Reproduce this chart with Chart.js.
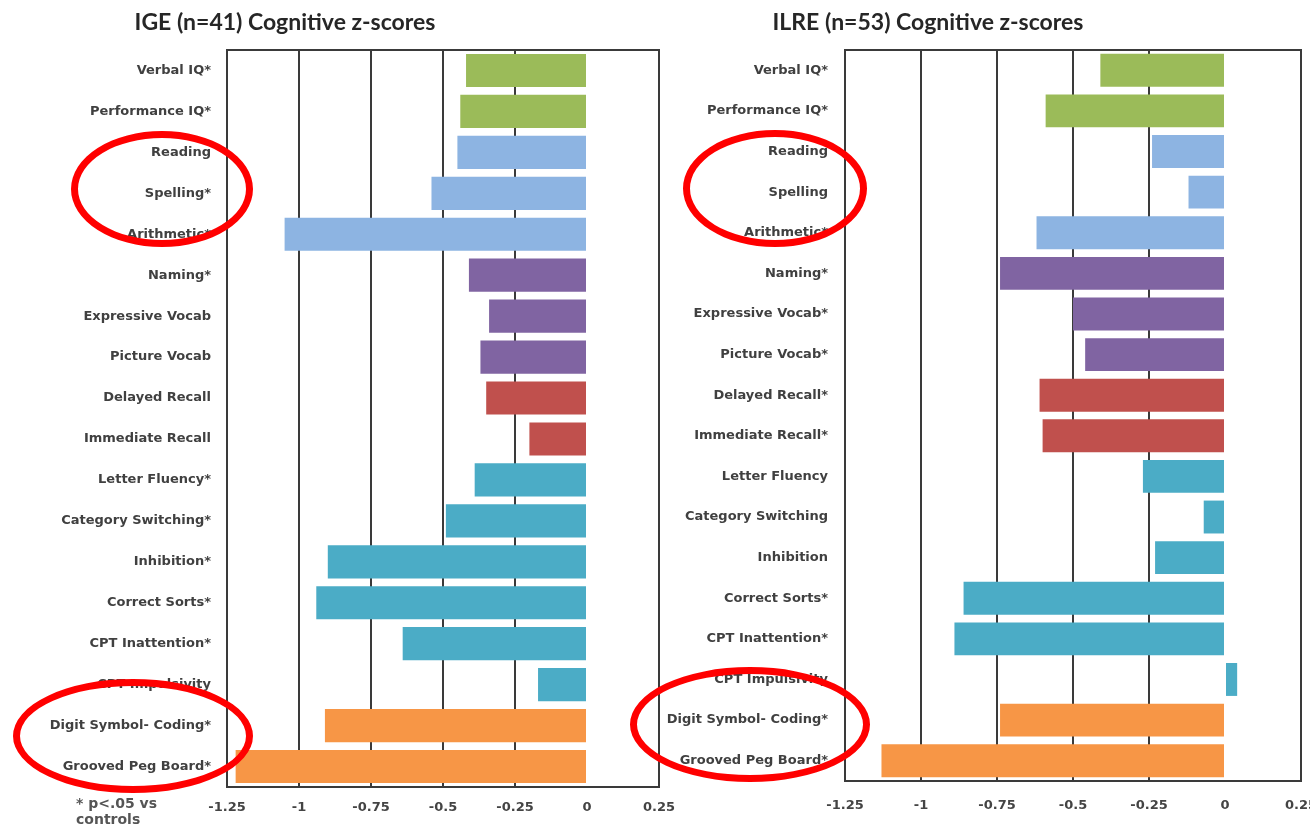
<!DOCTYPE html>
<html>
<head>
<meta charset="utf-8">
<script src="https://cdn.jsdelivr.net/npm/chart.js@4.4.0/dist/chart.umd.min.js"></script>
<style>
  body { margin: 0; background: #fff; }
  #wrap { position: relative; width: 1310px; height: 829px; overflow: hidden; }
  #wrap canvas { position: absolute; left: 0; top: 0; }
  .title { position: absolute; width: 400px; text-align: center; font: bold 23px Lato, sans-serif; color: #262626; line-height: 26px; }
  .note { position: absolute; left: 76px; top: 795px; font: bold 14px "DejaVu Sans", sans-serif; color: #555; line-height: 16px; }
  .ring { position: absolute; border: 7px solid #ff0000; border-radius: 50%; box-sizing: border-box; }
</style>
</head>
<body>
<div id="wrap">
  <canvas id="igeChart" width="1350" height="829"></canvas>
  <canvas id="ilreChart" width="1350" height="829"></canvas>
  <div class="title" style="left:85px; top:8px;">IGE (n=41) Cognitive z-scores</div>
  <div class="title" style="left:728px; top:8px;">ILRE (n=53) Cognitive z-scores</div>
  <div class="note">* p&lt;.05 vs<br>controls</div>
  <div class="ring" style="left:71px; top:131px; width:182px; height:116px;"></div>
  <div class="ring" style="left:13px; top:679px; width:240px; height:114px;"></div>
  <div class="ring" style="left:683px; top:130px; width:184px; height:117px;"></div>
  <div class="ring" style="left:630px; top:667px; width:240px; height:115px;"></div>
</div>
<script>
const igeLabels = ['Verbal IQ*', 'Performance IQ*', 'Reading', 'Spelling*', 'Arithmetic*', 'Naming*',
  'Expressive Vocab', 'Picture Vocab', 'Delayed Recall', 'Immediate Recall', 'Letter Fluency*',
  'Category Switching*', 'Inhibition*', 'Correct Sorts*', 'CPT Inattention*', 'CPT Impulsivity',
  'Digit Symbol- Coding*', 'Grooved Peg Board*'];
const ilreLabels = ['Verbal IQ*', 'Performance IQ*', 'Reading', 'Spelling', 'Arithmetic*', 'Naming*',
  'Expressive Vocab*', 'Picture Vocab*', 'Delayed Recall*', 'Immediate Recall*', 'Letter Fluency',
  'Category Switching', 'Inhibition', 'Correct Sorts*', 'CPT Inattention*', 'CPT Impulsivity',
  'Digit Symbol- Coding*', 'Grooved Peg Board*'];

const igeScores = [-0.42, -0.44, -0.45, -0.54, -1.05, -0.41, -0.34, -0.37, -0.35, -0.20,
  -0.39, -0.49, -0.90, -0.94, -0.64, -0.17, -0.91, -1.22];
const ilreScores = [-0.41, -0.59, -0.24, -0.12, -0.62, -0.74, -0.50, -0.46, -0.61, -0.60,
  -0.27, -0.07, -0.23, -0.86, -0.89, 0.04, -0.74, -1.13];

const xTicks = [-1.25, -1, -0.75, -0.5, -0.25, 0, 0.25];

// domain colours: IQ, academic, language, memory, executive, motor
const barColors = ['#9bbb59', '#9bbb59', '#8db4e2', '#8db4e2', '#8db4e2', '#8064a2', '#8064a2', '#8064a2',
  '#c0504d', '#c0504d', '#4bacc6', '#4bacc6', '#4bacc6', '#4bacc6', '#4bacc6', '#4bacc6', '#f79646', '#f79646'];

const lineCol = '#3a3a3a';
const labelFont = { family: 'DejaVu Sans', size: 13, weight: 'bold' };

const frame = {
  id: 'frame',
  beforeDatasetsDraw(chart) {
    const a = chart.chartArea, ctx = chart.ctx;
    ctx.save();
    ctx.strokeStyle = lineCol;
    ctx.lineWidth = 2;
    ctx.strokeRect(a.left, a.top, a.right - a.left, a.bottom - a.top);
    ctx.restore();
  }
};

function makeChart(id, labels, scores, lay) {
  return new Chart(document.getElementById(id), {
    type: 'bar',
    data: {
      labels: labels,
      datasets: [{
        data: scores,
        backgroundColor: barColors,
        borderWidth: 0,
        barPercentage: 0.81,
        categoryPercentage: 1
      }]
    },
    options: {
      indexAxis: 'y',
      responsive: false,
      animation: false,
      layout: { padding: { left: lay.left, right: lay.right, top: 50, bottom: lay.bottom } },
      plugins: {
        legend: { display: false },
        tooltip: { enabled: false }
      },
      scales: {
        x: {
          min: -1.25,
          max: 0.25,
          afterBuildTicks: s => { s.ticks = xTicks.map(v => ({ value: v })); },
          afterFit: s => { s.height = 30; },
          ticks: { font: labelFont, color: '#444', padding: lay.tickPad, maxRotation: 0, callback: v => String(v) },
          grid: {
            color: c => (c.tick && c.tick.value === 0) ? 'rgba(0,0,0,0)' : lineCol,
            lineWidth: 2,
            drawTicks: false
          },
          border: { display: true, color: lineCol, width: 2 }
        },
        y: {
          afterFit: s => { s.width = lay.labelW; },
          ticks: { font: labelFont, color: '#404040', padding: lay.labelPad, autoSkip: false },
          grid: { display: false, drawTicks: false },
          border: { display: false }
        }
      }
    },
    plugins: [frame]
  });
}

makeChart('igeChart', igeLabels, igeScores, { left: 0, right: 1350 - 659, bottom: 12, labelW: 227, labelPad: 16, tickPad: 13 });
makeChart('ilreChart', ilreLabels, ilreScores, { left: 660, right: 1350 - 1301, bottom: 18, labelW: 185, labelPad: 17, tickPad: 17 });
</script>
</body>
</html>
